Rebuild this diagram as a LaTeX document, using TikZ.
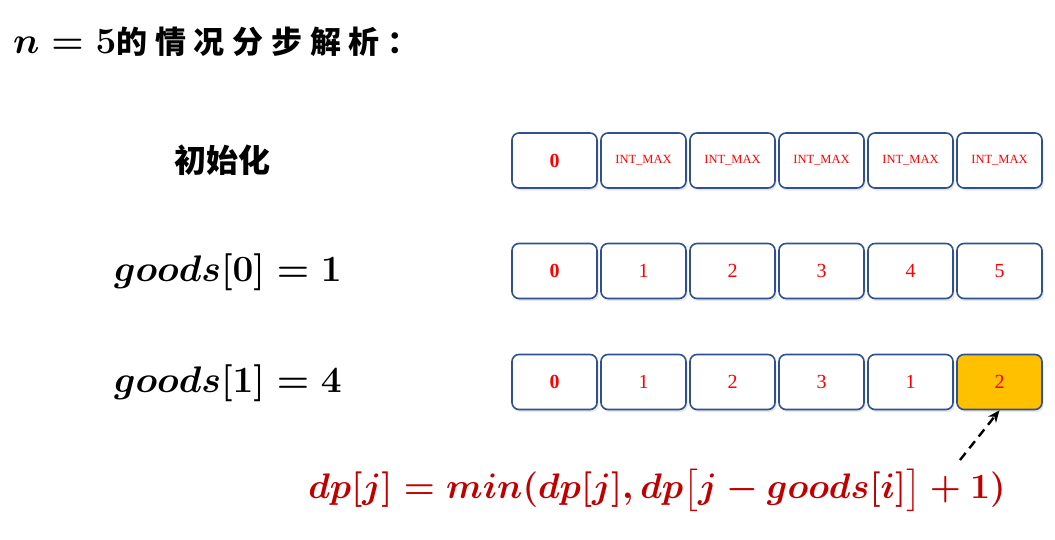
\RequirePackage{fix-cm}
\documentclass[tikz,border=0pt]{standalone}
\usepackage{amsmath,amssymb}
\usepackage{fontspec}
\setmainfont{Liberation Serif}
\newfontfamily\cjk{Noto Sans CJK SC}
\usepackage{tikz}
\usetikzlibrary{arrows.meta, positioning, shadows}
\definecolor{boxblue}{HTML}{2F528F}
\definecolor{hilite}{HTML}{FFC000}
\definecolor{formred}{HTML}{C00000}

\begin{document}
\begin{tikzpicture}[x=1pt, y=-1pt]
    \tikzstyle{cell} = [rectangle, draw=boxblue, line width=1.6pt, fill=white, rounded corners=7pt, minimum width=85pt, minimum height=55pt, inner sep=0pt, text=red, font=\fontsize{20}{22}\selectfont, drop shadow={opacity=0.2, shadow xshift=1.5pt, shadow yshift=-2.5pt}]
    \tikzstyle{small} = [font=\fontsize{12.5}{14}\selectfont]
    \tikzstyle{rowlabel} = [font=\fontsize{37}{40}\selectfont\boldmath]
    \tikzstyle{line} = [draw, dash pattern=on 9pt off 6pt, line width=2.4pt, -{Stealth[length=12pt, width=10pt]}]

    \useasboundingbox (0,0) rectangle (1055,539);

    \node [anchor=west, inner sep=0pt, font=\fontsize{37}{40}\selectfont\boldmath] (title) at (13,42)
        {$n=\mathbf{5}${\fontsize{31}{34}\selectfont\cjk\bfseries\addfontfeatures{LetterSpace=25}的情况分步解析：}};

    % row labels
    \node [font=\fontsize{32}{34}\selectfont\cjk\bfseries] (init) at (222,160) {初始化};
    \node [rowlabel] (good0) at (228,272) {$goods[\mathbf{0}]=\mathbf{1}$};
    \node [rowlabel] (good1) at (228,383) {$goods[\mathbf{1}]=\mathbf{4}$};

    % initial dp
    \node [cell] (a0) at (554.5,160.5) {\textbf{0}};
    \foreach \i [remember=\i as \j (initially 0)] in {1,...,5}
        \node [cell, small, right=2.4pt of a\j] (a\i) {INT\_MAX};

    % after goods[0]
    \node [cell] (b0) at (554.5,271) {\textbf{0}};
    \foreach \v [count=\i, remember=\i as \j (initially 0)] in {1,2,3,4,5}
        \node [cell, right=2.4pt of b\j] (b\i) {\v};

    % after goods[1]
    \node [cell] (c0) at (554.5,382) {\textbf{0}};
    \foreach \v [count=\i, remember=\i as \j (initially 0)] in {1,2,3,1}
        \node [cell, right=2.4pt of c\j] (c\i) {\v};
    \node [cell, fill=hilite, right=2.4pt of c4] (c5) {2};

    % update rule
    \node [rowlabel, font=\fontsize{35.5}{38}\selectfont\boldmath, text=formred] (rule) at (657,490)
        {$dp[j]=min(dp[j],dp\big[j-goods[i]\big]+\mathbf{1})$};
    \coordinate (tail) at (960,460);
    \path [line] (tail) -- (c5.south);
\end{tikzpicture}
\end{document}
